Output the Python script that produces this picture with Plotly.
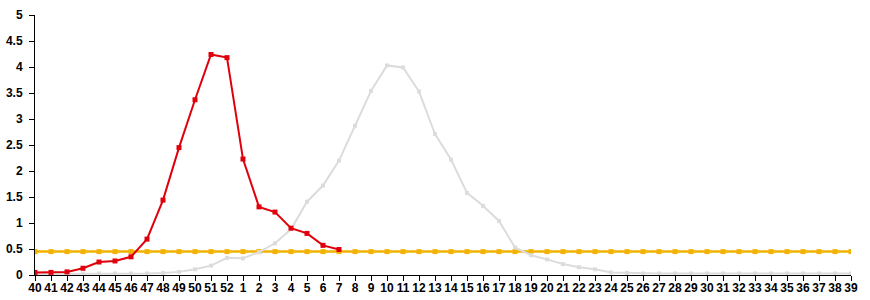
import plotly.graph_objects as go

weeks = [str(w) for w in list(range(40, 53)) + list(range(1, 40))]

current_season = [0.05, 0.05, 0.06, 0.13, 0.25, 0.27, 0.35, 0.69, 1.44, 2.45, 3.37, 4.24, 4.18,
                  2.23, 1.31, 1.21, 0.90, 0.80, 0.57, 0.49]

previous_season = [0.02, 0.02, 0.02, 0.03, 0.03, 0.03, 0.03, 0.03, 0.04, 0.06, 0.11, 0.18, 0.33,
                   0.32, 0.44, 0.61, 0.88, 1.41, 1.72, 2.20, 2.87, 3.54, 4.03, 3.99, 3.53,
                   2.71, 2.22, 1.58, 1.33, 1.04, 0.53, 0.38, 0.30, 0.21, 0.15, 0.11, 0.05,
                   0.04, 0.03, 0.03, 0.03, 0.03, 0.03, 0.03, 0.03, 0.03, 0.03, 0.03, 0.03,
                   0.03, 0.03, 0.03]

threshold = [0.45] * len(weeks)

y_ticks = [i * 0.5 for i in range(11)]

idx = list(range(len(weeks)))

fig = go.Figure()
fig.add_trace(go.Scatter(x=idx, y=threshold, mode="lines+markers",
                         line=dict(color="#F2B200", width=2.5),
                         marker=dict(symbol="square", size=5, color="#F2B200"),
                         showlegend=False, hoverinfo="skip"))
fig.add_trace(go.Scatter(x=idx[:len(previous_season)], y=previous_season, mode="lines+markers",
                         line=dict(color="#DCDCDC", width=2),
                         marker=dict(symbol="square", size=4, color="#DCDCDC"),
                         showlegend=False))
fig.add_trace(go.Scatter(x=idx[:len(current_season)], y=current_season, mode="lines+markers",
                         line=dict(color="#E0000B", width=2),
                         marker=dict(symbol="square", size=5, color="#E0000B"),
                         showlegend=False))

font = dict(family="Liberation Sans, Arial, sans-serif", size=12, color="#000000")

fig.update_layout(
    width=870, height=300, autosize=False,
    margin=dict(l=35, r=19, t=15, b=25, pad=0, autoexpand=False),
    paper_bgcolor="white", plot_bgcolor="white",
    showlegend=False,
    font=font,
    xaxis=dict(range=[0, len(weeks) - 1], tickmode="array", tickvals=idx,
               ticktext=["<b>%s</b>" % w for w in weeks], automargin=False,
               ticklabelstandoff=-3,
               showgrid=False, zeroline=False, showline=True, linecolor="black", linewidth=1,
               ticks="outside", ticklen=5, tickwidth=1, tickcolor="black",
               tickangle=0, fixedrange=True),
    yaxis=dict(range=[0, 5], tickmode="array", tickvals=y_ticks, automargin=False,
               ticktext=["<b>%g</b>" % v for v in y_ticks],
               ticklabelstandoff=4,
               showgrid=False, zeroline=False, showline=True, linecolor="black", linewidth=1,
               ticks="outside", ticklen=5, tickwidth=1, tickcolor="black", fixedrange=True),
    xaxis2=dict(range=[0, len(weeks) - 1], overlaying="x", anchor="y", side="bottom",
                tickmode="array", tickvals=idx, showticklabels=False, automargin=False,
                showgrid=False, zeroline=False, showline=False,
                ticks="inside", ticklen=5, tickwidth=1, tickcolor="black"),
    yaxis2=dict(range=[0, 5], overlaying="y", anchor="x", side="left",
                tickmode="array", tickvals=y_ticks, showticklabels=False, automargin=False,
                showgrid=False, zeroline=False, showline=False,
                ticks="inside", ticklen=5, tickwidth=1, tickcolor="black"),
)

fig.write_html("out.html")
